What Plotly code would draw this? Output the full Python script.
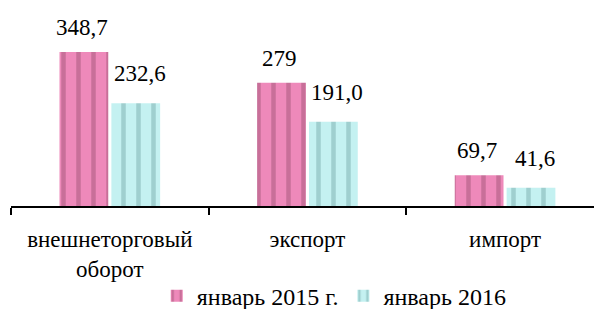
import plotly.graph_objects as go

categories = ["внешнеторговый<br>оборот", "экспорт", "импорт"]
series_names = ["январь 2015 г.", "январь 2016"]
values_2015 = [348.7, 279.0, 69.7]
values_2016 = [232.6, 191.0, 41.6]
labels_2015 = ["348,7", "279", "69,7"]
labels_2016 = ["232,6", "191,0", "41,6"]

FONT = "Liberation Serif"
PINK = "#ee89ba"
PINK_D = "#c86f99"
TEAL = "#c4f1f1"
TEAL_D = "#9fcfcf"

fig = go.Figure()
fig.add_trace(go.Bar(
    x=categories, y=values_2015, name=series_names[0],
    marker=dict(color=PINK, line=dict(width=0),
                pattern=dict(shape="|", size=15, solidity=0.3,
                             fgcolor=PINK_D, bgcolor=PINK, fillmode="replace")),
))
fig.add_trace(go.Bar(
    x=categories, y=values_2016, name=series_names[1],
    marker=dict(color=TEAL, line=dict(width=0),
                pattern=dict(shape="|", size=15, solidity=0.3,
                             fgcolor=TEAL_D, bgcolor=TEAL, fillmode="replace")),
))

for cat, v, t in zip(categories, values_2015, labels_2015):
    fig.add_annotation(x=cat, y=v, text=t, showarrow=False, xref="x", yref="y",
                       xshift=-28, yshift=10, yanchor="bottom",
                       font=dict(family=FONT, size=23, color="black"))
for cat, v, t in zip(categories, values_2016, labels_2016):
    fig.add_annotation(x=cat, y=v, text=t, showarrow=False, xref="x", yref="y",
                       xshift=30, yshift=15, yanchor="bottom",
                       font=dict(family=FONT, size=23, color="black"))

fig.update_layout(
    width=594, height=309,
    margin=dict(l=11, r=0, t=10, b=103, autoexpand=False),
    paper_bgcolor="white", plot_bgcolor="white",
    barmode="group", bargap=0.475, bargroupgap=0.06,
    font=dict(family=FONT, size=23, color="black"),
    showlegend=True,
    legend=dict(orientation="h", x=0.25, xanchor="left", y=-0.46, yanchor="middle",
                font=dict(family=FONT, size=24, color="black"),
                itemclick=False, bgcolor="rgba(0,0,0,0)"),
    xaxis=dict(type="category", range=[-0.5, 2.45], showline=True, linecolor="black",
               linewidth=2, ticks="outside", tickson="boundaries", ticklen=7,
               tickcolor="black", tickwidth=2, showgrid=False, zeroline=False,
               automargin=False, ticklabelstandoff=11,
               tickfont=dict(family=FONT, size=23, color="black")),
    yaxis=dict(range=[0, 443.8], visible=False, showgrid=False, zeroline=False),
)

fig.write_html("out.html", config={"displayModeBar": False},
               post_script="document.body.style.margin='0';document.body.style.padding='0';")
